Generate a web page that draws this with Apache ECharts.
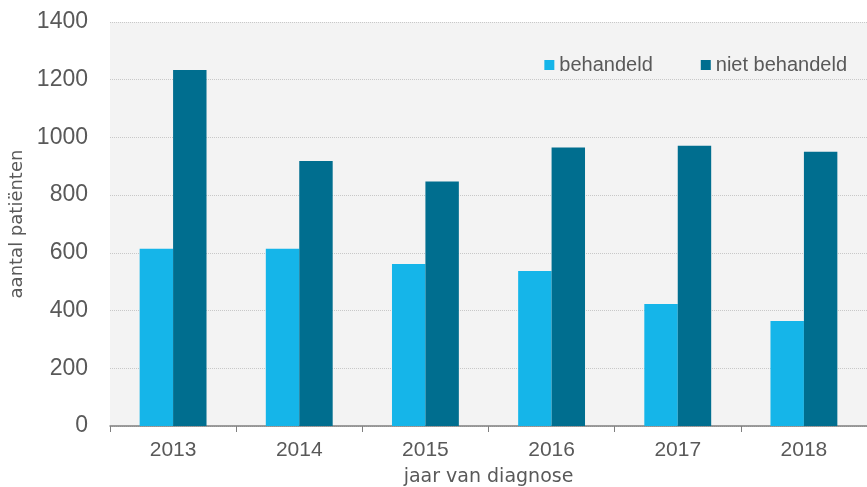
<!DOCTYPE html>
<html>
<head>
<meta charset="utf-8">
<script src="https://cdn.jsdelivr.net/npm/echarts@6/dist/echarts.min.js"></script>
<style>
html, body { margin: 0; padding: 0; background: #fff; }
#main { width: 867px; height: 487px; }
</style>
</head>
<body>
<div id="main"></div>
<script>
// jaren en aantallen
var years = ['2013', '2014', '2015', '2016', '2017', '2018'];
var behandeld = [614, 614, 561, 537, 423, 364];
var nietBehandeld = [1234, 918, 847, 965, 971, 950];

var chart = echarts.init(document.getElementById('main'));
chart.setOption({
    animation: false,
    textStyle: { fontFamily: 'Liberation Sans, Arial, sans-serif' },
    grid: {
        left: 110, right: 0, top: 22, bottom: 61,
        outerBoundsMode: 'none',
        containLabel: false,
        show: true,
        backgroundColor: '#f3f3f3',
        borderWidth: 0
    },
    legend: {
        right: 15, top: 50,
        itemWidth: 10, itemHeight: 10,
        itemGap: 48,
        icon: 'rect',
        textStyle: { color: '#595959', fontSize: 20 },
        data: ['behandeld', 'niet behandeld']
    },
    xAxis: {
        type: 'category',
        data: years,
        name: 'jaar van diagnose',
        nameLocation: 'middle',
        nameGap: 42,
        nameTextStyle: { color: '#595959', fontSize: 19, fontFamily: 'DejaVu Sans, sans-serif' },
        axisLine: { lineStyle: { color: '#7f7f7f', width: 1.5 } },
        axisTick: { show: true, length: 6, lineStyle: { color: '#7f7f7f' } },
        axisLabel: { color: '#595959', fontSize: 21, margin: 14 }
    },
    yAxis: {
        type: 'value',
        min: 0, max: 1400, interval: 200,
        name: 'aantal patiënten',
        nameLocation: 'middle',
        nameGap: 82,
        nameTextStyle: { color: '#595959', fontSize: 18, fontFamily: 'DejaVu Sans, sans-serif' },
        axisLine: { show: false },
        axisTick: { show: false },
        axisLabel: { color: '#595959', fontSize: 23, margin: 22, formatter: function (v) { return String(v); } },
        splitLine: { lineStyle: { type: 'dotted', color: '#c8c8c8' } }
    },
    series: [{
        name: 'behandeld',
        type: 'bar',
        data: behandeld,
        itemStyle: { color: '#15b5e9' },
        barGap: '0%',
        barCategoryGap: '47%'
    }, {
        name: 'niet behandeld',
        type: 'bar',
        data: nietBehandeld,
        itemStyle: { color: '#006e8f' }
    }]
});
</script>
</body>
</html>
